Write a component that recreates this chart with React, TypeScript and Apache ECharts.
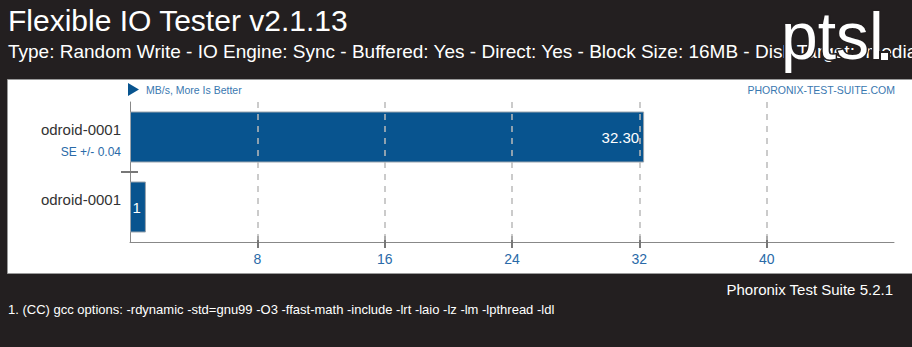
import React, { useEffect, useRef } from "react";
import * as echarts from "echarts";

const categories = ["odroid-0001", "odroid-0001"];
const values = [32.3, 1];
const valueLabels = ["32.30", "1"];
const seLabels = ["SE +/- 0.04", ""];
const xTicks = [8, 16, 24, 32, 40];
const xMax = 48;

const title = "Flexible IO Tester v2.1.13";
const subtitle =
  "Type: Random Write - IO Engine: Sync - Buffered: Yes - Direct: Yes - Block Size: 16MB - Disk Target: /media/sda1";
const unitText = "MB/s, More Is Better";
const siteText = "PHORONIX-TEST-SUITE.COM";
const versionText = "Phoronix Test Suite 5.2.1";
const noteText =
  "1. (CC) gcc options: -rdynamic -std=gnu99 -O3 -ffast-math -include -lrt -laio -lz -lm -lpthread -ldl";

const FONT = "'Liberation Sans', Arial, Helvetica, sans-serif";
const BG = "#231f20";
const BLUE = "#2a6aa8";
const BAR = "#08548f";

export default function App() {
  const ref = useRef<HTMLDivElement>(null);
  useEffect(() => {
    if (!ref.current) return;
    const chart = echarts.init(ref.current, null, { renderer: "svg" });
    const option: any = {
      animation: false,
      backgroundColor: BG,
      textStyle: { fontFamily: FONT },
      grid: { left: 130, right: 18, top: 102, bottom: 105, containLabel: false },
      xAxis: [
        {
          type: "value",
          min: 0,
          max: xMax,
          interval: 8,
          axisLine: { show: true, lineStyle: { color: "#888", width: 1 } },
          axisTick: { show: true, length: 6, customValues: xTicks, lineStyle: { color: "#777", width: 2 } },
          axisLabel: {
            show: true,
            customValues: xTicks,
            color: BLUE,
            fontSize: 14,
            fontFamily: FONT,
            margin: 10,
            formatter: (v: number) => (xTicks.indexOf(v) >= 0 ? String(v) : ""),
          },
          splitLine: { show: false },
        },
        {
          type: "value",
          min: 0,
          max: xMax,
          interval: 8,
          position: "bottom",
          axisLine: { show: false },
          axisTick: { show: true, inside: true, length: 6, customValues: xTicks, lineStyle: { color: "#777", width: 2 } },
          axisLabel: { show: false },
          splitLine: { show: false },
        },
      ],
      yAxis: [
        {
          type: "category",
          inverse: true,
          data: categories,
          axisLine: { show: true, lineStyle: { color: "#888", width: 1 } },
          axisTick: { show: false },
          axisLabel: {
            margin: 9,
            formatter: (_v: string, i: number) =>
              "{n|" + categories[i] + "}\n{se|" + (seLabels[i] || " ") + "}",
            rich: {
              n: { fontSize: 15, color: "#333", lineHeight: 30, fontFamily: FONT, align: "right" },
              se: { fontSize: 12, color: BLUE, lineHeight: 16, fontFamily: FONT, align: "right" },
            },
          },
        },
        {
          type: "value",
          min: 0,
          max: 2,
          interval: 1,
          position: "left",
          axisLine: { show: false },
          axisTick: { show: true, length: 9, customValues: [1], lineStyle: { color: "#777", width: 2 } },
          axisLabel: { show: false },
          splitLine: { show: false },
        },
        {
          type: "value",
          min: 0,
          max: 2,
          interval: 1,
          position: "left",
          axisLine: { show: false },
          axisTick: { show: true, inside: true, length: 8, customValues: [1], lineStyle: { color: "#777", width: 2 } },
          axisLabel: { show: false },
          splitLine: { show: false },
        },
      ],
      series: [
        {
          type: "bar",
          xAxisIndex: 0,
          yAxisIndex: 0,
          data: values,
          barWidth: 51,
          itemStyle: { color: BAR, borderColor: "#9aa4ad", borderWidth: 1 },
          label: {
            show: true,
            position: "insideRight",
            distance: 5,
            color: "#fff",
            fontSize: 15,
            fontFamily: FONT,
            formatter: (p: any) => valueLabels[p.dataIndex],
          },
          markLine: {
            silent: true,
            symbol: "none",
            label: { show: false },
            lineStyle: { color: "#bbb", type: [6, 6], width: 1.5 },
            data: xTicks.map((v) => ({ xAxis: v })),
          },
          z: 3,
        },
      ],
      graphic: [
        {
          type: "rect",
          z: -10,
          shape: { x: 7.5, y: 79.5, width: 906, height: 194 },
          style: { fill: "#fff", stroke: "#9a9a9a", lineWidth: 1 },
        },
        {
          type: "text",
          x: 8,
          y: 20,
          style: { text: title, fill: "#fff", font: "30px " + FONT, textVerticalAlign: "middle" },
        },
        {
          type: "text",
          x: 8,
          y: 51,
          style: { text: subtitle, fill: "#fff", font: "19px " + FONT, textVerticalAlign: "middle" },
        },
        {
          type: "text",
          x: 781,
          y: 3,
          z: 5,
          style: {
            text: "ptsl",
            fill: "#fff",
            stroke: BG,
            lineWidth: 3,
            font: "66px " + FONT,
            textVerticalAlign: "top",
          },
        },
        {
          type: "rect",
          z: 5,
          shape: { x: 880, y: 52, width: 9, height: 9 },
          style: { fill: "#fff", stroke: BG, lineWidth: 2 },
        },
        {
          type: "polygon",
          z: 5,
          shape: { points: [[128, 83], [139, 89.5], [128, 96]] },
          style: { fill: BAR },
        },
        {
          type: "text",
          x: 146,
          y: 90,
          style: { text: unitText, fill: "#3a78b0", font: "10.5px " + FONT, textVerticalAlign: "middle" },
        },
        {
          type: "text",
          x: 895,
          y: 90,
          style: { text: siteText, fill: "#3a78b0", font: "10.5px " + FONT, textAlign: "right", textVerticalAlign: "middle" },
        },
        {
          type: "text",
          x: 893,
          y: 289,
          style: { text: versionText, fill: "#fff", font: "15px " + FONT, textAlign: "right", textVerticalAlign: "middle" },
        },
        {
          type: "text",
          x: 8,
          y: 309,
          style: { text: noteText, fill: "#fff", font: "13px " + FONT, textVerticalAlign: "middle" },
        },
      ],
    };
    chart.setOption(option);
    return () => chart.dispose();
  }, []);
  return (
    <div
      ref={ref}
      style={{ position: "fixed", left: 0, top: 0, width: 912, height: 347 }}
    />
  );
}
